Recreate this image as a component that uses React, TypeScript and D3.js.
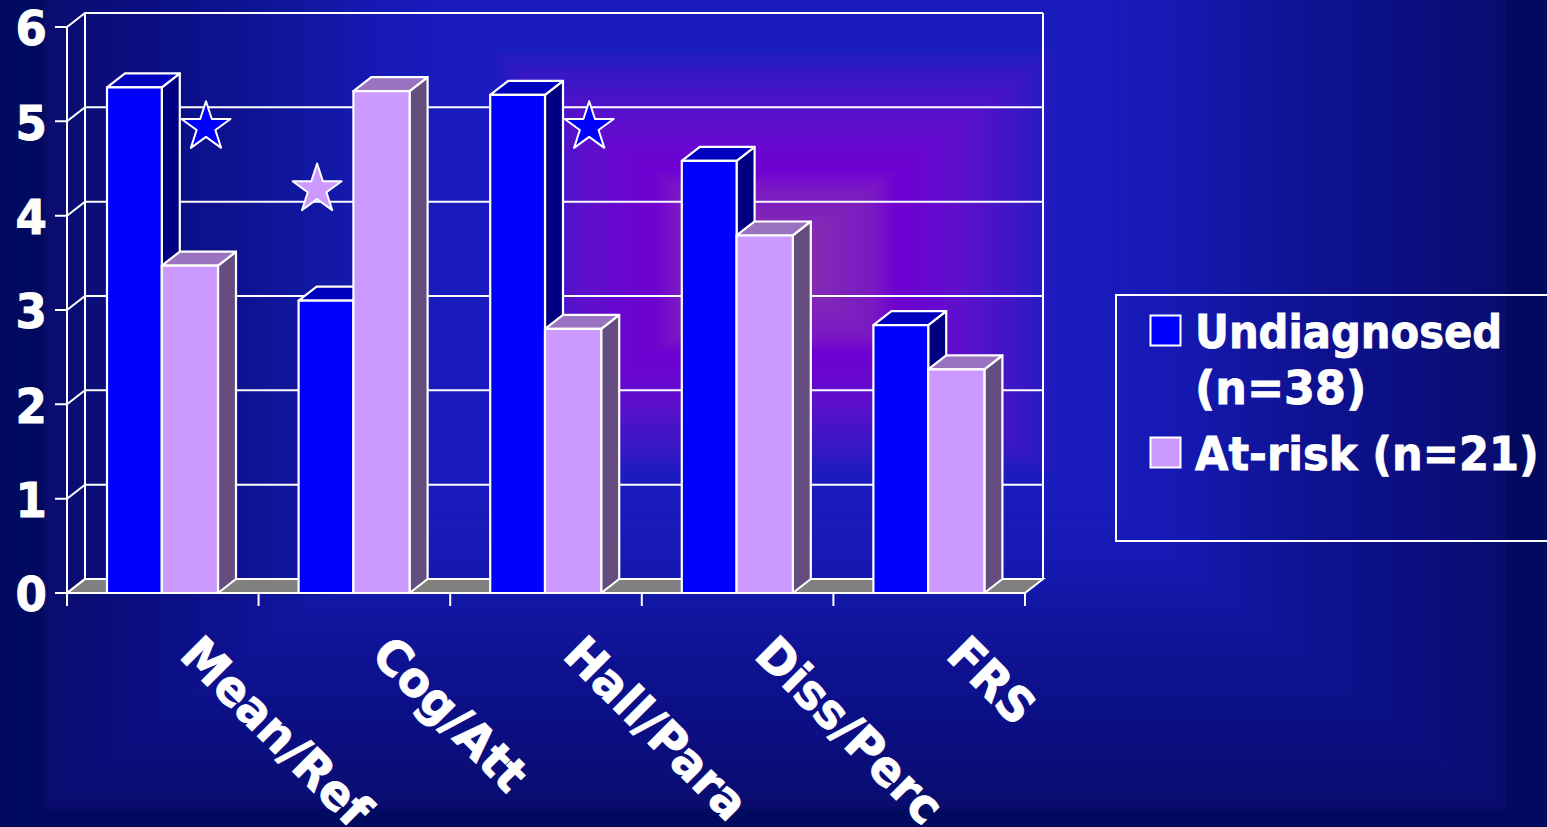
import React from "react";
import * as d3 from "d3";

const WIDTH = 1547;
const HEIGHT = 827;

// Scores per subscale
const categories = ["Mean/Ref", "Cog/Att", "Hall/Para", "Diss/Perc", "FRS"];
const undiagnosed = [5.36, 3.1, 5.28, 4.58, 2.84];
const atRisk = [3.47, 5.32, 2.8, 3.79, 2.37];
const yTicks = [0, 1, 2, 3, 4, 5, 6];

// Significance stars: category index, series, height on the value axis
const starCategories = [0, 1, 2];
const starSeries = ["undiagnosed", "atRisk", "undiagnosed"];
const starLevels = [4.94, 4.28, 4.94];

const legendLines = [
  { text: "Undiagnosed", squeeze: 0.888 },
  { text: "(n=38)", squeeze: 0.945 },
  { text: "At-risk (n=21)", squeeze: 0.918 },
];

const palette = {
  undiagnosed: { front: "#0000ff", top: "#0000bf", side: "#000080" },
  atRisk: { front: "#cc99ff", top: "#9973bf", side: "#664d80" },
};

// Backdrop colour against distance from its centre (0 centre, 1 page edge)
const backdropStops = [0, 0.13, 0.16, 0.25, 0.33, 0.37, 0.5, 0.6, 0.7, 0.77, 0.92, 0.945, 0.95, 1];
const backdropColors = [
  "#8a3aa8", "#7a18c4", "#7000d2", "#5c10cc", "#3418c4", "#1a1cc0",
  "#1719b6", "#1217a2", "#0e1290", "#0c1088", "#0a0d72", "#0a0c6c", "#000a5e", "#000a5e",
];

const FONT = "'DejaVu Sans', Verdana, sans-serif";
const DEPTH_X = 18;
const DEPTH_Y = -14;

const x = d3.scaleBand<string>().domain(categories).range([67, 1025]);
const y = d3.scaleLinear().domain([0, 6]).range([593, 27]);
const barStart = 40;
const blueWidth = 54.8;
const purpleWidth = 56.2;

const backdropColor = d3.scaleLinear<string>().domain(backdropStops).range(backdropColors);
const bandCount = 160;
const bands = d3.range(bandCount, 0, -1).map((i) => i / bandCount);

const poly = (pts: [number, number][]) => d3.line()(pts) + "Z";

function Bar({
  left,
  width,
  value,
  colors,
}: {
  left: number;
  width: number;
  value: number;
  colors: typeof palette.atRisk;
}) {
  const right = left + width;
  const top = y(value);
  const base = y(0);
  const ink = { stroke: "#ffffff", strokeWidth: 2.2, strokeLinejoin: "round" as const };
  return (
    <g>
      <path
        d={poly([[right, top], [right + DEPTH_X, top + DEPTH_Y], [right + DEPTH_X, base + DEPTH_Y], [right, base]])}
        fill={colors.side}
        {...ink}
      />
      <path
        d={poly([[left, top], [left + DEPTH_X, top + DEPTH_Y], [right + DEPTH_X, top + DEPTH_Y], [right, top]])}
        fill={colors.top}
        {...ink}
      />
      <rect x={left} y={top} width={width} height={base - top} fill={colors.front} {...ink} />
    </g>
  );
}

export default function App() {
  const star = d3.symbol(d3.symbolStar, 745)() as string;
  const [x0, x1] = x.range();
  const y0 = y(0);
  const wall = "#ffffff";
  const heavy = { stroke: "#ffffff", strokeWidth: 0.9 };

  return (
    <svg
      width={WIDTH}
      height={HEIGHT}
      viewBox={`0 0 ${WIDTH} ${HEIGHT}`}
      style={{ position: "absolute", left: 0, top: 0, display: "block" }}
    >
      {/* Stepped rectangular backdrop with its glow */}
      <rect width={WIDTH} height={HEIGHT} fill="#000a5e" />
      {bands.map((t) => (
        <rect
          key={t}
          x={775 - 775 * t}
          y={262 - 580 * t}
          width={1550 * t}
          height={1160 * t}
          fill={backdropColor(t)}
        />
      ))}

      {/* Floor */}
      <path
        d={poly([[x0, y0], [x0 + DEPTH_X, y0 + DEPTH_Y], [x1 + DEPTH_X, y0 + DEPTH_Y], [x1, y0]])}
        fill="#808080"
        stroke={wall}
        strokeWidth={2}
      />

      {/* Walls, gridlines and value ticks */}
      <g fill="none" stroke={wall} strokeWidth={2}>
        <line x1={x0} x2={x0} y1={y(6)} y2={y0 + 13} />
        <line x1={x0 + DEPTH_X} x2={x0 + DEPTH_X} y1={y(6) + DEPTH_Y} y2={y0 + DEPTH_Y} />
        <line x1={x1 + DEPTH_X} x2={x1 + DEPTH_X} y1={y(6) + DEPTH_Y} y2={y0 + DEPTH_Y} />
        {yTicks.map((t) => (
          <path
            key={t}
            d={
              d3.line()([
                [55, y(t)],
                [x0, y(t)],
                [x0 + DEPTH_X, y(t) + DEPTH_Y],
                [x1 + DEPTH_X, y(t) + DEPTH_Y],
              ]) as string
            }
          />
        ))}
        <line x1={55} x2={x1} y1={y0} y2={y0} />
        {categories.map((c) => (
          <line key={c} x1={(x(c) as number) + x.step()} x2={(x(c) as number) + x.step()} y1={y0} y2={y0 + 13} />
        ))}
      </g>

      {/* Bars */}
      {categories.map((c, i) => (
        <g key={c}>
          <Bar left={(x(c) as number) + barStart} width={blueWidth} value={undiagnosed[i]} colors={palette.undiagnosed} />
          <Bar
            left={(x(c) as number) + barStart + blueWidth}
            width={purpleWidth}
            value={atRisk[i]}
            colors={palette.atRisk}
          />
        </g>
      ))}

      {/* Significance stars */}
      {starCategories.map((ci, i) => {
        const series = starSeries[i] as keyof typeof palette;
        const offset = series === "atRisk" ? 58.5 : 139;
        return (
          <path
            key={i}
            d={star}
            transform={`translate(${(x(categories[ci]) as number) + offset},${y(starLevels[i])})`}
            fill={palette[series].front}
            stroke="#ffffff"
            strokeWidth={2}
            strokeLinejoin="round"
          />
        );
      })}

      {/* Value labels */}
      <g fontFamily={FONT} fontWeight={700} fontSize={48} fill="#ffffff" textAnchor="end" {...heavy}>
        {yTicks.map((t) => (
          <text key={t} x={47} y={y(t) + 18.5} transform={`translate(${47 * 0.06},0) scale(0.94,1)`}>
            {t}
          </text>
        ))}
      </g>

      {/* Category labels */}
      <g fontFamily={FONT} fontWeight={700} fontSize={48} fill="#ffffff" {...heavy}>
        {categories.map((c) => (
          <text
            key={c}
            transform={`translate(${(x(c) as number) + 111},657) rotate(45) scale(0.96,1)`}
          >
            {c}
          </text>
        ))}
      </g>

      {/* Legend */}
      <rect x={1116} y={295} width={460} height={246} fill="none" stroke="#ffffff" strokeWidth={2} />
      <rect x={1150.5} y={315.5} width={30} height={30} fill={palette.undiagnosed.front} stroke="#ffffff" strokeWidth={2} />
      <rect x={1150.5} y={437.5} width={30} height={30} fill={palette.atRisk.front} stroke="#ffffff" strokeWidth={2} />
      <g fontFamily={FONT} fontWeight={700} fontSize={47} fill="#ffffff" {...heavy}>
        {legendLines.map((l, i) => (
          <text key={l.text} transform={`translate(1195,${[348, 404, 470][i]}) scale(${l.squeeze},1)`}>
            {l.text}
          </text>
        ))}
      </g>
    </svg>
  );
}
